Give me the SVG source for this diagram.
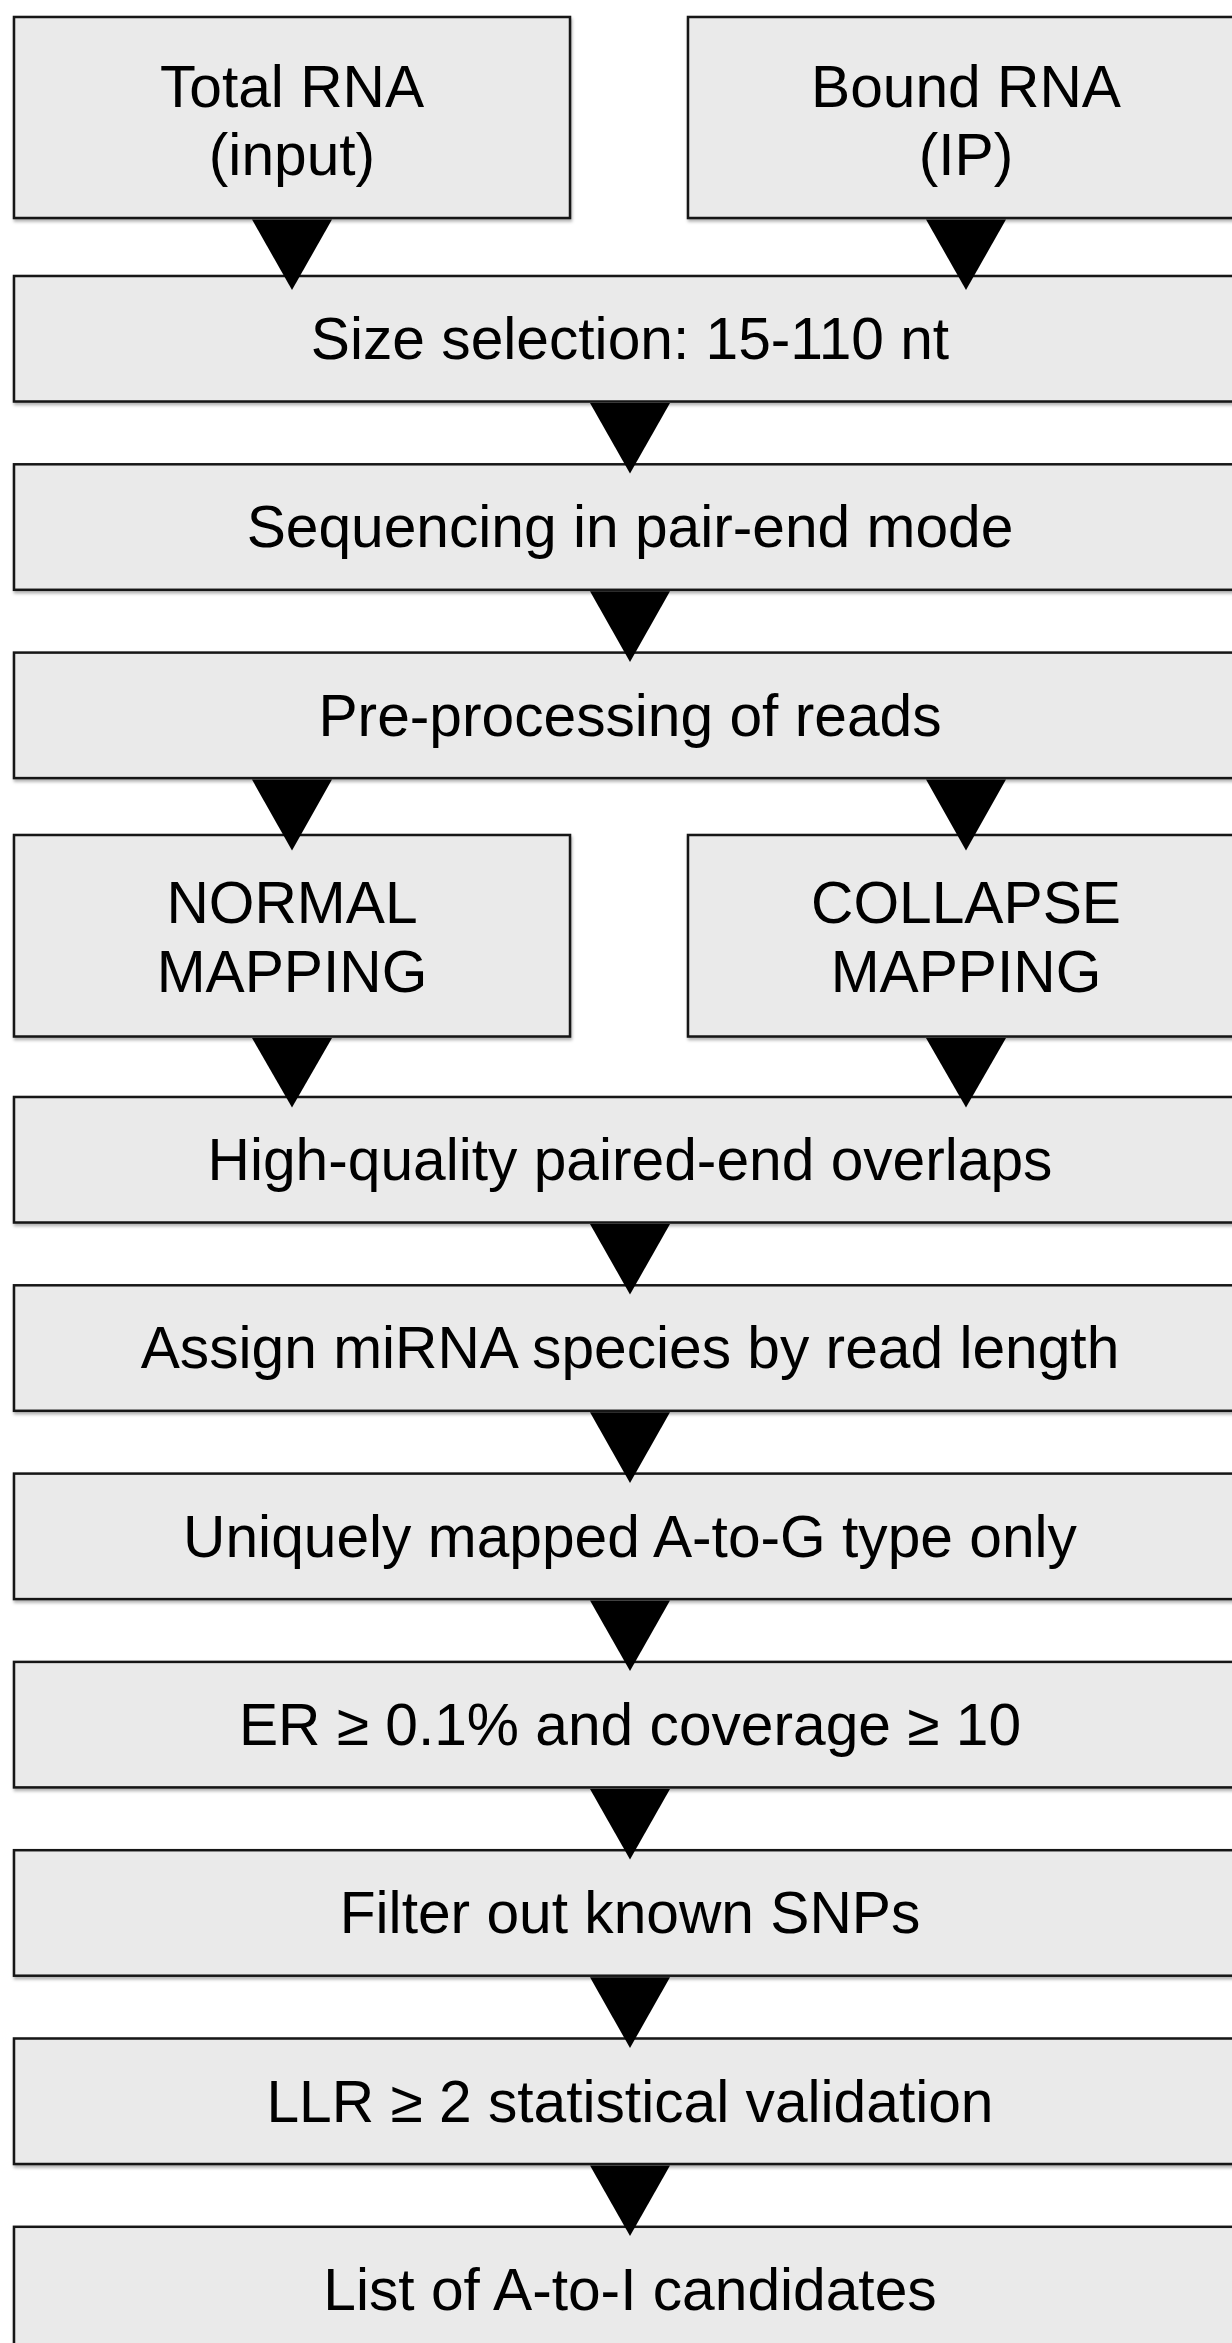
<svg xmlns="http://www.w3.org/2000/svg" width="1232" height="2343" viewBox="0 0 1232 2343">
<defs>
<style>
.box{fill:#eaeaea;stroke:#161616;stroke-width:2.5;filter:url(#sh)}
.t{font-family:"Liberation Sans",Arial,Helvetica,sans-serif;font-size:58.7px;fill:#000;text-anchor:middle}
.arr{fill:#000}
</style>
<filter id="sh" x="-5%" y="-10%" width="110%" height="130%">
<feDropShadow dx="1" dy="2.5" stdDeviation="1.5" flood-color="#000" flood-opacity="0.3"/>
</filter>
</defs>
<rect width="1232" height="2343" fill="#fff"/>
<g id="total-rna"><rect class="box" x="14" y="17" width="556" height="201"/><text class="t" x="292" y="107">Total RNA</text><text class="t" x="292" y="175">(input)</text></g>
<g id="bound-rna"><rect class="box" x="688" y="17" width="556" height="201"/><text class="t" x="966" y="107">Bound RNA</text><text class="t" x="966" y="175">(IP)</text></g>
<g id="size-selection"><rect class="box" x="14" y="276" width="1232" height="125.5"/><text class="t" x="630" y="359">Size selection: 15-110 nt</text></g>
<g id="sequencing"><rect class="box" x="14" y="464.3" width="1232" height="125.5"/><text class="t" x="630" y="547">Sequencing in pair-end mode</text></g>
<g id="preprocessing"><rect class="box" x="14" y="652.6" width="1232" height="125.5"/><text class="t" x="630" y="735.5">Pre-processing of reads</text></g>
<g id="normal-mapping"><rect class="box" x="14" y="835" width="556" height="201.5"/><text class="t" x="292" y="923">NORMAL</text><text class="t" x="292" y="992">MAPPING</text></g>
<g id="collapse-mapping"><rect class="box" x="688" y="835" width="556" height="201.5"/><text class="t" x="966" y="923">COLLAPSE</text><text class="t" x="966" y="992">MAPPING</text></g>
<g id="hq-overlaps"><rect class="box" x="14" y="1097" width="1232" height="125.5"/><text class="t" x="630" y="1180">High-quality paired-end overlaps</text></g>
<g id="assign-mirna"><rect class="box" x="14" y="1285.3" width="1232" height="125.5"/><text class="t" x="630" y="1368">Assign miRNA species by read length</text></g>
<g id="uniquely-mapped"><rect class="box" x="14" y="1473.6" width="1232" height="125.5"/><text class="t" x="630" y="1556.5">Uniquely mapped A-to-G type only</text></g>
<g id="er-coverage"><rect class="box" x="14" y="1661.9" width="1232" height="125.5"/><text class="t" x="630" y="1744.5">ER ≥ 0.1% and coverage ≥ 10</text></g>
<g id="filter-snps"><rect class="box" x="14" y="1850.2" width="1232" height="125.5"/><text class="t" x="630" y="1933">Filter out known SNPs</text></g>
<g id="llr"><rect class="box" x="14" y="2038.5" width="1232" height="125.5"/><text class="t" x="630" y="2121.5">LLR ≥ 2 statistical validation</text></g>
<g id="candidates"><rect class="box" x="14" y="2226.8" width="1232" height="125.5"/><text class="t" x="630" y="2309.5">List of A-to-I candidates</text></g>
<g id="connectors">
<polygon class="arr" points="252,219.5 332,219.5 292,290"/>
<polygon class="arr" points="926,219.5 1006,219.5 966,290"/>
<polygon class="arr" points="590,403 670,403 630,473.5"/>
<polygon class="arr" points="590,591.3 670,591.3 630,662"/>
<polygon class="arr" points="252,779.6 332,779.6 292,850.5"/>
<polygon class="arr" points="926,779.6 1006,779.6 966,850.5"/>
<polygon class="arr" points="252,1038 332,1038 292,1107.5"/>
<polygon class="arr" points="926,1038 1006,1038 966,1107.5"/>
<polygon class="arr" points="590,1224 670,1224 630,1294.5"/>
<polygon class="arr" points="590,1412.3 670,1412.3 630,1483"/>
<polygon class="arr" points="590,1600.6 670,1600.6 630,1671"/>
<polygon class="arr" points="590,1788.9 670,1788.9 630,1859.5"/>
<polygon class="arr" points="590,1977.2 670,1977.2 630,2048"/>
<polygon class="arr" points="590,2165.5 670,2165.5 630,2236"/>
</g>
</svg>
